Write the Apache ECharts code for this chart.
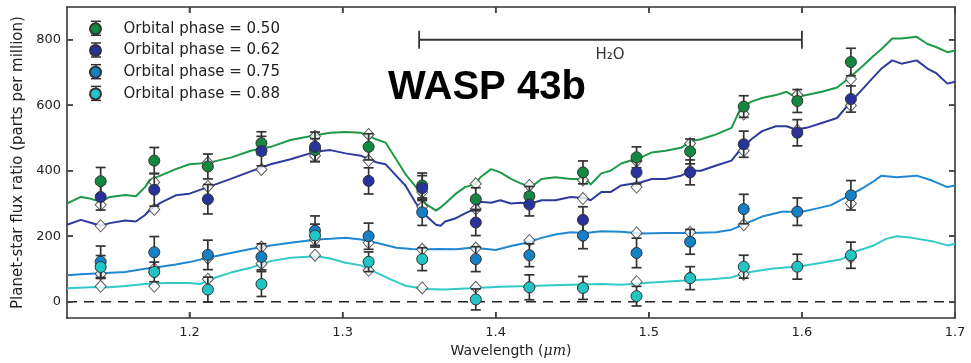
<!DOCTYPE html>
<html>
<head>
<meta charset="utf-8">
<script src="https://cdn.jsdelivr.net/npm/echarts@6/dist/echarts.min.js"></script>
<style>
html,body{margin:0;padding:0;background:#fff;}
#chart{width:971px;height:363px;}
</style>
</head>
<body>
<div id="chart"></div>
<script>
// ---------- data ----------
const phaseNames = ['Orbital phase = 0.50','Orbital phase = 0.62','Orbital phase = 0.75','Orbital phase = 0.88'];
const binWave = [1.142,1.177,1.212,1.247,1.282,1.317,1.352,1.387,1.422,1.457,1.492,1.527,1.562,1.597,1.632];

const obs050 = [368,431,413,484,463,473,355,313,322,395,441,459,596,613,732];
const err050 = [42,40,38,35,35,40,38,35,30,35,32,38,33,35,42];
const obs062 = [320,342,313,460,473,369,347,242,297,250,395,395,481,516,619];
const err062 = [40,50,45,45,45,40,38,40,35,40,35,38,40,40,40];
const obs075 = [122,151,143,137,217,200,273,130,142,202,149,183,283,275,325];
const err075 = [48,48,45,40,45,40,40,38,35,40,45,38,45,42,45];
const obs088 = [106,91,37,54,202,122,130,7,44,42,17,72,107,107,142];
const err088 = [35,30,38,38,35,30,35,32,38,35,30,35,35,38,40];

const bin050 = [296,365,425,465,505,511,335,360,355,372,430,483,573,632,680];
const bin062 = [232,282,352,404,446,431,290,283,300,315,350,400,461,524,599];
const bin075 = [85,101,133,167,190,180,160,164,187,200,210,212,235,275,300];
const bin088 = [47,47,69,116,142,96,42,44,44,45,61,75,84,108,135];

const modelWaveA = [1.120,1.129,1.135,1.142,1.148,1.158,1.165,1.171,1.174,1.181,1.191,1.200,1.212,1.227,1.240,1.253,1.266,1.283,1.292,1.302,1.312,1.322,1.328,1.335,1.341,1.348,1.354,1.361,1.364,1.367,1.374,1.380,1.387,1.390,1.397,1.403,1.410,1.416,1.423,1.430,1.439,1.449,1.459,1.462,1.469,1.475,1.482,1.495,1.502,1.511,1.521,1.528,1.534,1.544,1.554,1.560,1.567,1.574,1.583,1.590,1.596,1.603,1.613,1.623,1.631,1.639,1.646,1.652,1.659,1.665,1.675,1.682,1.688,1.695,1.700];
const model050 = [300,320,315,305,320,326,322,350,372,385,405,420,424,440,461,473,494,509,516,518,516,496,486,435,390,350,300,278,288,300,330,350,360,380,405,395,375,362,350,375,380,375,375,358,392,400,422,441,456,461,470,491,496,511,531,591,611,622,631,641,624,631,641,654,684,717,747,772,804,804,809,787,777,762,767];
const model062 = [235,250,242,232,240,248,245,265,280,302,325,330,350,375,398,420,435,459,463,453,446,426,420,385,355,300,265,235,232,245,255,270,285,305,302,310,300,302,300,310,310,320,316,310,335,335,355,365,375,375,385,400,400,416,431,466,496,521,536,536,526,531,546,561,606,646,682,712,737,727,737,712,697,666,672];

const modelWaveB = [1.120,1.129,1.142,1.158,1.171,1.181,1.191,1.200,1.212,1.227,1.240,1.253,1.266,1.283,1.292,1.302,1.312,1.322,1.328,1.335,1.345,1.354,1.364,1.374,1.384,1.394,1.400,1.410,1.420,1.430,1.439,1.449,1.459,1.469,1.482,1.495,1.511,1.528,1.544,1.554,1.564,1.574,1.587,1.600,1.610,1.619,1.631,1.639,1.646,1.652,1.662,1.675,1.685,1.695,1.700];
const model075 = [81,84,87,91,101,107,114,121,134,149,161,172,180,190,192,195,190,180,173,165,161,160,161,160,165,161,158,170,180,195,205,212,210,215,214,208,210,210,212,220,240,260,275,275,285,295,325,345,365,385,380,385,370,350,355];

const modelWaveC = [1.120,1.135,1.148,1.158,1.171,1.184,1.200,1.207,1.217,1.227,1.240,1.253,1.266,1.283,1.292,1.302,1.312,1.322,1.331,1.341,1.354,1.367,1.384,1.403,1.423,1.443,1.469,1.482,1.502,1.521,1.541,1.554,1.564,1.580,1.600,1.613,1.626,1.636,1.646,1.655,1.662,1.672,1.685,1.695,1.700];
const model088 = [41,44,44,48,54,57,57,54,74,89,104,124,134,139,132,119,111,89,69,49,39,37,41,46,48,51,54,52,59,64,69,74,89,101,109,119,130,155,170,192,200,195,185,172,177];

const h2oBand = [1.35, 1.60];
const h2oLevel = 800;
const xRange = [1.12, 1.7];
const yRange = [-50, 900];
const xTicks = [1.2,1.3,1.4,1.5,1.6,1.7];
const yTicks = [0,200,400,600,800];

// ---------- styles ----------
const pointColors = ['#12893f','#27339a','#1480c6','#22c4c4'];
const lineColors  = ['#1c9a48','#2f3a9e','#1e88d2','#33c9c9'];
const FONT = 'DejaVu Sans';
const TICK_LEN = 6;

const zip = (xs, ys) => xs.map((x, i) => [x, ys[i]]);

const models = [
  zip(modelWaveA, model050), zip(modelWaveA, model062),
  zip(modelWaveB, model075), zip(modelWaveC, model088)
];
const obs = [obs050, obs062, obs075, obs088];
const errs = [err050, err062, err075, err088];
const bins = [bin050, bin062, bin075, bin088];

const series = [];
// zero line
series.push({
  type: 'line', data: [[xRange[0], 0], [xRange[1], 0]], showSymbol: false, silent: true,
  lineStyle: { color: '#222', width: 1.5, type: [10, 7] }, z: 1
});
// model lines
models.forEach((d, i) => series.push({
  type: 'line', data: d, showSymbol: false, silent: true,
  lineStyle: { color: lineColors[i], width: 2 }, z: 2
}));
// H2O bracket
series.push({
  type: 'line', data: h2oBand.map(x => [x, h2oLevel]), symbol: 'rect', symbolSize: [1.8, 18],
  showSymbol: true, silent: true,
  itemStyle: { color: '#333' }, lineStyle: { color: '#333', width: 1.8 }, z: 2
});
// binned models (diamonds)
bins.forEach((b, i) => series.push({
  type: 'scatter', data: zip(binWave, b), symbol: 'diamond', symbolSize: [11, 12],
  itemStyle: { color: '#fff', borderColor: '#333', borderWidth: 1 }, z: 3, silent: true
}));
// observations with error bars
obs.forEach((o, i) => {
  series.push({
    type: 'custom', z: 4, silent: true,
    data: binWave.map((x, k) => [x, o[k] - errs[i][k], o[k] + errs[i][k]]),
    encode: { x: 0, y: [1, 2] },
    renderItem: function (params, api) {
      const x = api.value(0);
      const top = api.coord([x, api.value(2)]);
      const bot = api.coord([x, api.value(1)]);
      const hw = 5;
      const st = { stroke: '#333', lineWidth: 1.7 };
      return {
        type: 'group',
        children: [
          { type: 'line', shape: { x1: top[0], y1: top[1], x2: bot[0], y2: bot[1] }, style: st },
          { type: 'line', shape: { x1: top[0] - hw, y1: top[1], x2: top[0] + hw, y2: top[1] }, style: st },
          { type: 'line', shape: { x1: bot[0] - hw, y1: bot[1], x2: bot[0] + hw, y2: bot[1] }, style: st }
        ]
      };
    }
  });
  series.push({
    type: 'scatter', name: phaseNames[i], data: zip(binWave, o), symbol: 'circle', symbolSize: 11,
    itemStyle: { color: pointColors[i], borderColor: '#333', borderWidth: 1, opacity: 1 }, z: 4
  });
});

// inward tick marks on all four sides (matplotlib style), placed through the axis scales
const tickStyle = { stroke: '#444', lineWidth: 1.5 };
series.push({
  type: 'custom', z: 6, silent: true, clip: false,
  data: xTicks.map(v => [v, yRange[0]]),
  encode: { x: 0, y: 1 },
  renderItem: function (params, api) {
    const v = api.value(0);
    const b = api.coord([v, yRange[0]]);
    const t = api.coord([v, yRange[1]]);
    return { type: 'group', children: [
      { type: 'line', shape: { x1: b[0], y1: b[1], x2: b[0], y2: b[1] - TICK_LEN }, style: tickStyle },
      { type: 'line', shape: { x1: t[0], y1: t[1], x2: t[0], y2: t[1] + TICK_LEN }, style: tickStyle }
    ] };
  }
});
series.push({
  type: 'custom', z: 6, silent: true, clip: false,
  data: yTicks.map(v => [xRange[0], v]),
  encode: { x: 0, y: 1 },
  renderItem: function (params, api) {
    const v = api.value(1);
    const l = api.coord([xRange[0], v]);
    const r = api.coord([xRange[1], v]);
    return { type: 'group', children: [
      { type: 'line', shape: { x1: l[0], y1: l[1], x2: l[0] + TICK_LEN, y2: l[1] }, style: tickStyle },
      { type: 'line', shape: { x1: r[0], y1: r[1], x2: r[0] - TICK_LEN, y2: r[1] }, style: tickStyle }
    ] };
  }
});

// legend error-bar glyphs
const legendRows = [28.3, 50, 71.7, 93.4];
const legendGlyphs = [];
legendRows.forEach(c => {
  const st = { stroke: '#333', lineWidth: 1.5 };
  legendGlyphs.push({ type: 'line', shape: { x1: 96, y1: c - 7, x2: 96, y2: c + 7 }, style: st, z: 1 });
  legendGlyphs.push({ type: 'line', shape: { x1: 91, y1: c - 7, x2: 101, y2: c - 7 }, style: st, z: 1 });
  legendGlyphs.push({ type: 'line', shape: { x1: 91, y1: c + 7, x2: 101, y2: c + 7 }, style: st, z: 1 });
});

const chart = echarts.init(document.getElementById('chart'), null, { renderer: 'canvas' });
const lineCommon = () => ({ show: true, onZero: false, lineStyle: { color: '#333', width: 1.6 } });
const tickCommon = (vals) => ({ show: true, inside: true, length: TICK_LEN, customValues: vals, lineStyle: { color: '#444', width: 1.5 } });
chart.setOption({
  animation: false,
  backgroundColor: '#fff',
  textStyle: { fontFamily: FONT },
  grid: { left: 67, right: 16, top: 7, bottom: 40, show: false },
  legend: {
    data: phaseNames, orient: 'vertical', left: 84, top: 15.8,
    itemWidth: 46, itemHeight: 11, itemGap: 5.7, icon: 'circle',
    textStyle: { fontFamily: FONT, fontSize: 15, color: '#222', lineHeight: 16 },
    selectedMode: false, z: 6
  },
  xAxis: [{
    type: 'value', min: xRange[0], max: xRange[1], position: 'bottom',
    axisLine: lineCommon(), splitLine: { show: false },
    axisTick: tickCommon(xTicks),
    axisLabel: { customValues: xTicks, formatter: v => v.toFixed(1), fontSize: 13, color: '#222', margin: 8, fontFamily: FONT },
    name: 'Wavelength ({i|μm})', nameLocation: 'middle', nameGap: 21,
    nameTextStyle: { fontSize: 14, color: '#222', fontFamily: FONT, rich: { i: { fontStyle: 'italic', fontSize: 14, fontFamily: 'DejaVu Serif', color: '#222' } } }
  }, {
    type: 'value', min: xRange[0], max: xRange[1], position: 'top',
    axisLine: lineCommon(), splitLine: { show: false },
    axisTick: tickCommon(xTicks),
    axisLabel: { show: false }
  }],
  yAxis: [{
    type: 'value', min: yRange[0], max: yRange[1], position: 'left',
    axisLine: lineCommon(), splitLine: { show: false },
    axisTick: tickCommon(yTicks),
    axisLabel: { customValues: yTicks, fontSize: 13, color: '#222', margin: 6, fontFamily: FONT },
    name: 'Planet-star flux ratio (parts per million)', nameLocation: 'middle', nameGap: 38,
    nameTextStyle: { fontSize: 15, color: '#222', fontFamily: FONT }
  }, {
    type: 'value', min: yRange[0], max: yRange[1], position: 'right',
    axisLine: lineCommon(), splitLine: { show: false },
    axisTick: tickCommon(yTicks),
    axisLabel: { show: false }
  }],
  graphic: legendGlyphs.concat([
    { type: 'text', x: 610, y: 55, z: 10, style: { text: 'H₂O', fontSize: 15, fontFamily: FONT, fill: '#333', align: 'center', verticalAlign: 'middle' } },
    { type: 'text', x: 388, y: 88, z: 10, style: { text: 'WASP 43b', fontSize: 40, fontWeight: 'bold', fontFamily: 'Liberation Sans', fill: '#000', align: 'left', verticalAlign: 'middle' } }
  ]),
  series: series
});
</script>
</body>
</html>
